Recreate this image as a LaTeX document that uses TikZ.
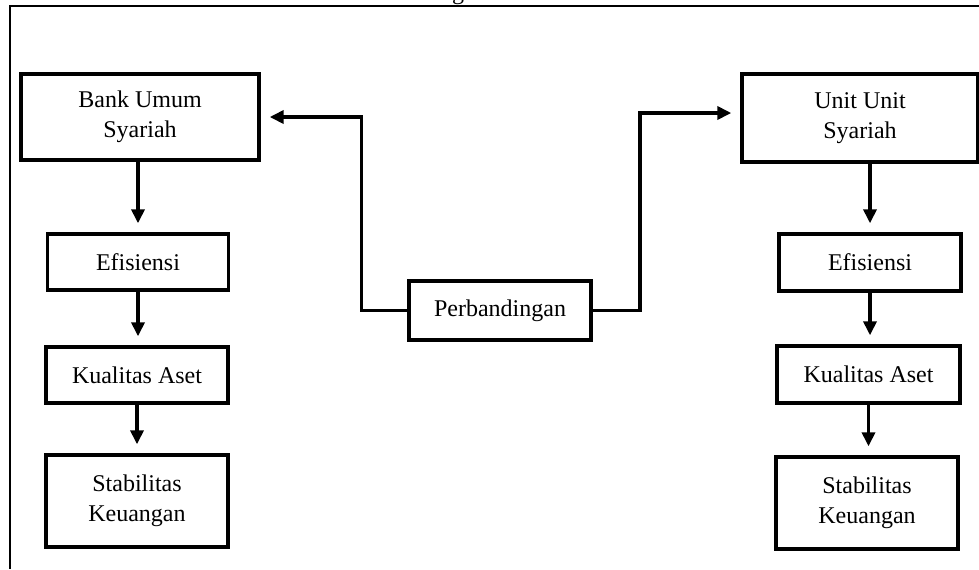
\documentclass[tikz,border=0pt]{standalone}
\usepackage{fontspec}
\setmainfont{Liberation Serif}
\usetikzlibrary{arrows.meta}

\begin{document}
\begin{tikzpicture}[x=0.5pt,y=-0.5pt,
    box/.style={draw,line width=1.7pt,align=center,inner sep=0pt,font=\fontsize{12}{15}\selectfont},
    arr/.style={line width=1.8pt,-{Triangle[length=7pt,width=6.5pt]},shorten >=4.5pt}]
    \useasboundingbox (0,0) rectangle (979,569);
    \draw[line width=1.1pt] (979,6) -- (10,6) -- (10,569);
    \node[anchor=base,font=\fontsize{12}{15}\selectfont] (title) at (458,-1) {g};
    % left column
    \node[box,minimum width=119pt,minimum height=43pt] (bus) at (140,117) {Bank Umum\\Syariah};
    \node[box,minimum width=90.5pt,minimum height=28pt] (efL) at (138,262) {Efisiensi};
    \node[box,minimum width=91pt,minimum height=28pt] (kaL) at (137,375) {Kualitas Aset};
    \node[box,minimum width=91pt,minimum height=46pt] (skL) at (137,501) {Stabilitas\\Keuangan};
    % right column
    \node[box,minimum width=118pt,minimum height=44pt] (uus) at (860,118) {Unit Unit\\Syariah};
    \node[box,minimum width=91pt,minimum height=28.5pt] (efR) at (870,262.5) {Efisiensi};
    \node[box,minimum width=91.5pt,minimum height=28.5pt] (kaR) at (868.5,374.5) {Kualitas Aset};
    \node[box,minimum width=91pt,minimum height=46pt] (skR) at (867,503) {Stabilitas\\Keuangan};
    % middle
    \node[box,minimum width=91pt,minimum height=29.5pt] (per) at (500,310.5) {Perbandingan};
    \draw[arr] (per.west) -- ++(-46,0) |- (bus.east);
    \draw[arr] (per.east) -- ++(47,0) |- ([yshift=2.5pt]uus.west);
    \draw[arr] (bus.south -| efL.north) -- (efL.north);
    \draw[arr] (efL.south) -- (efL.south |- kaL.north);
    \draw[arr] (kaL.south) -- (skL.north);
    \draw[arr] (uus.south -| efR.north) -- (efR.north);
    \draw[arr] (efR.south) -- (efR.south |- kaR.north);
    \draw[arr] (kaR.south) -- (kaR.south |- skR.north);
\end{tikzpicture}
\end{document}
